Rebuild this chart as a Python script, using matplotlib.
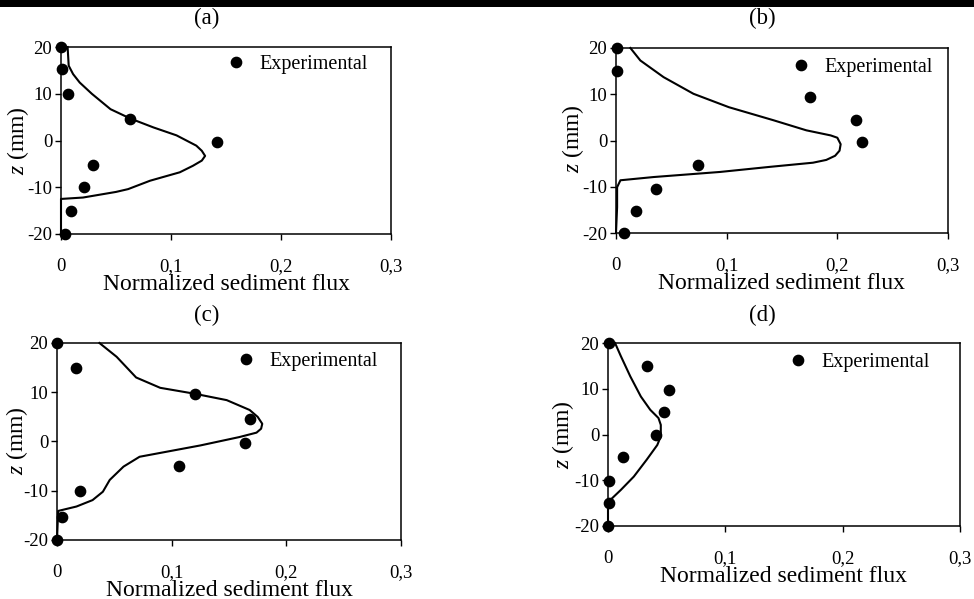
import matplotlib
matplotlib.use("Agg")
import matplotlib.pyplot as plt
from matplotlib.patches import Rectangle

plt.rcParams['font.family'] = ['Liberation Serif', 'DejaVu Serif']
plt.rcParams['mathtext.fontset'] = 'custom'
plt.rcParams['mathtext.it'] = 'Liberation Serif:italic'
plt.rcParams['mathtext.rm'] = 'Liberation Serif'

# ---------------- data ----------------
panel_titles = ["(a)", "(b)", "(c)", "(d)"]
xticks = [0, 0.1, 0.2, 0.3]
xtick_labels = ["0", "0,1", "0,2", "0,3"]
yticks = [-20, -10, 0, 10, 20]
yticks_labels = ["-20", "-10", "0", "10", "20"]
legend_label = "Experimental"
xlabel_text = "Normalized sediment flux"
ylabel_text = r"$\mathit{z}$ (mm)"

# (a)
exp_z_a = [20, 15.2, 10.0, 4.7, -0.3, -5.3, -10.0, -15.0, -19.9]
exp_flux_a = [0.0, 0.001, 0.006, 0.063, 0.142, 0.029, 0.021, 0.009, 0.004]
model_z_a = [20, 16, 14.2, 12.4, 10, 6.7, 4.7, 2.8, 1.1, -1.1, -2.2, -3.3, -4.3, -5.4, -6.8, -8.6, -10.4, -11.0, -12.2, -12.5, -20]
model_flux_a = [0.006, 0.007, 0.011, 0.017, 0.028, 0.045, 0.063, 0.084, 0.105, 0.123, 0.128, 0.131, 0.128, 0.120, 0.108, 0.081, 0.061, 0.050, 0.020, 0.0, 0.0]

# (b)
exp_z_b = [20, 15, 9.5, 4.5, -0.3, -5.4, -10.4, -15.2, -20]
exp_flux_b = [0.001, 0.001, 0.175, 0.217, 0.222, 0.074, 0.036, 0.018, 0.007]
model_z_b = [20, 17.3, 13.7, 10.1, 7.2, 4.4, 2.2, 1.1, 0.6, -0.8, -2.2, -3.3, -4.2, -4.8, -5.7, -6.8, -7.9, -8.6, -10.1, -14.4, -20]
model_flux_b = [0.013, 0.022, 0.043, 0.070, 0.102, 0.142, 0.172, 0.194, 0.200, 0.203, 0.202, 0.198, 0.190, 0.178, 0.139, 0.094, 0.034, 0.004, 0.001, 0.001, 0.0]

# (c)
exp_z_c = [20, 14.9, 9.7, 4.5, -0.4, -5.0, -10.1, -15.3, -20]
exp_flux_c = [0.0, 0.017, 0.120, 0.168, 0.164, 0.106, 0.020, 0.004, 0.0]
model_z_c = [20, 17.2, 13.0, 10.9, 9.7, 8.4, 6.4, 5.0, 3.6, 2.6, 1.8, 0.9, -0.8, -3.1, -5.1, -7.8, -10.2, -11.9, -13.2, -14.1, -20]
model_flux_c = [0.037, 0.052, 0.069, 0.090, 0.120, 0.148, 0.168, 0.175, 0.179, 0.178, 0.174, 0.159, 0.125, 0.072, 0.058, 0.046, 0.040, 0.031, 0.017, 0.001, 0.0]

# (d)
exp_z_d = [20, 14.9, 9.8, 4.9, -0.1, -5.0, -10.1, -15.0, -20]
exp_flux_d = [0.001, 0.033, 0.052, 0.048, 0.041, 0.013, 0.001, 0.001, 0.0]
model_z_d = [20, 17.1, 12.7, 8.3, 5.4, 3.6, 2.1, -0.4, -2.3, -5.5, -9.2, -12.1, -14.3, -15.8, -20]
model_flux_d = [0.006, 0.011, 0.019, 0.028, 0.036, 0.043, 0.045, 0.045, 0.042, 0.033, 0.022, 0.011, 0.002, 0.0, 0.0]

# ---------------- layout (pixels) ----------------
W, H = 974, 599
fig = plt.figure(figsize=(W / 100, H / 100), dpi=100)
fig.patches.append(Rectangle((0, 1 - 7 / H), 1, 7 / H, transform=fig.transFigure,
                             facecolor='black', edgecolor='none'))

def px_axes(left, right, top, bottom):
    return fig.add_axes([left / W, 1 - bottom / H, (right - left) / W, (bottom - top) / H])

boxes = [(61, 391, 47, 234), (616, 948, 48, 233), (57, 401, 343, 540), (608, 960, 343, 526)]
title_pos = [(207, 18), (762, 18), (207, 315), (762, 315)]
ylabel_pos = [(31, 141), (586, 139), (30, 441), (576, 435)]
legend_anchor = [(368, 55), (933, 58), (378, 352), (930, 353)]

data = [
    (exp_flux_a, exp_z_a, model_flux_a, model_z_a),
    (exp_flux_b, exp_z_b, model_flux_b, model_z_b),
    (exp_flux_c, exp_z_c, model_flux_c, model_z_c),
    (exp_flux_d, exp_z_d, model_flux_d, model_z_d),
]

for i, (ef, ez, mf, mz) in enumerate(data):
    l, r, t, b = boxes[i]
    ax = px_axes(l, r, t, b)
    ax.plot(mf, mz, color='black', lw=1.5, zorder=3, clip_on=False,
            solid_joinstyle='round')
    ax.plot(ef, ez, 'o', color='black', ms=7.4, label=legend_label, zorder=4, clip_on=False)
    ax.set_xlim(0, 0.3)
    ax.set_ylim(-20, 20)
    ax.set_xticks(xticks)
    ax.set_xticklabels(xtick_labels)
    ax.set_yticks(yticks)
    ax.set_yticklabels(yticks_labels)
    ax.tick_params(axis='x', direction='out', length=4, width=1.0, pad=13, labelsize=13.5)
    ax.tick_params(axis='y', direction='out', length=4.3, width=1.0, pad=2, labelsize=13.5)
    for s in ax.spines.values():
        s.set_linewidth(1.1)
        s.set_color('black')
    ax.set_xlabel(xlabel_text, fontsize=17, labelpad=-0.5)
    ax.set_ylabel(ylabel_text, fontsize=17)
    yx, yy = ylabel_pos[i]
    ax.yaxis.set_label_coords((yx - l) / (r - l), 1 - (yy - t) / (b - t))
    lx, ly = legend_anchor[i]
    ax.legend(loc='upper right', bbox_to_anchor=((lx - l) / (r - l), 1 - (ly - t) / (b - t)),
              frameon=False, fontsize=14.5, handlelength=1.0, handletextpad=0.65,
              borderpad=0, borderaxespad=0)
    tx, ty = title_pos[i]
    fig.text(tx / W, 1 - ty / H, panel_titles[i], ha='center', va='center', fontsize=16.5)

fig.savefig("out.png", dpi=100)
